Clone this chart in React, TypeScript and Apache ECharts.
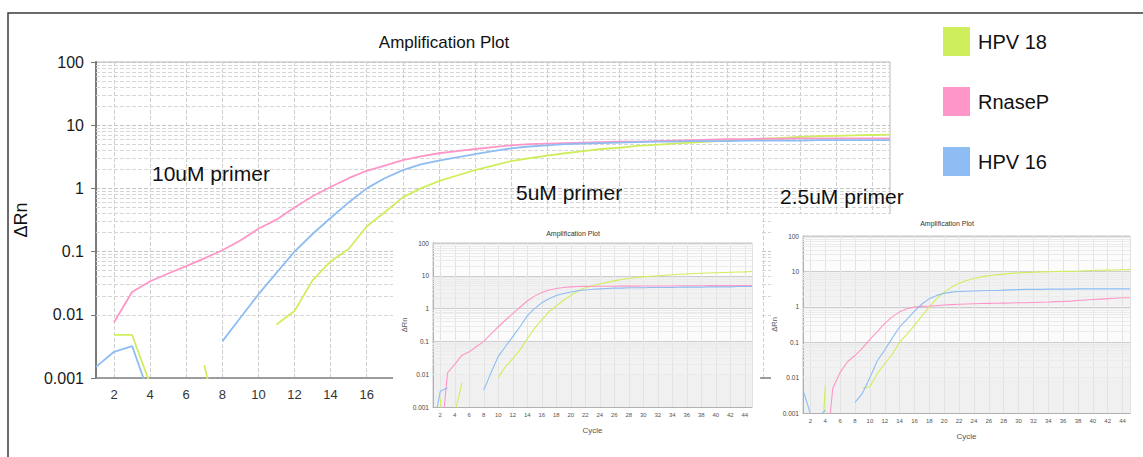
import React, { useEffect, useRef } from 'react';
import * as echarts from 'echarts';

const FONT = '"Liberation Sans", Arial, sans-serif';
const GREEN = '#cfee5c';
const PINK = '#ff96c8';
const BLUE = '#8dbdf3';

// Cycle categories (x axis)
const CYCLES = ['1','2','3','4','5','6','7','8','9','10','11','12','13','14','15','16','17','18','19','20','21','22','23','24','25','26','27','28','29','30','31','32','33','34','35','36','37','38','39','40','41','42','43','44','45'];

// Minor log grid lines (2..9 of every decade)
const MINOR_Y = [0.002,0.003,0.004,0.005,0.006,0.007,0.008,0.009,0.02,0.03,0.04,0.05,0.06,0.07,0.08,0.09,0.2,0.3,0.4,0.5,0.6,0.7,0.8,0.9,2,3,4,5,6,7,8,9,20,30,40,50,60,70,80,90];

const SERIES_NAMES = ['HPV 18', 'RnaseP', 'HPV 16'];

// 10uM primer (main plot)
const MAIN_HPV18 = [null,0.0048,0.0048,0.0008,null,null,0.0016,0.0001,null,null,0.007,0.0115,0.035,0.07,0.11,0.25,0.42,0.72,1.0,1.3,1.6,1.95,2.3,2.7,3.0,3.3,3.6,3.9,4.2,4.4,4.7,4.9,5.1,5.3,5.5,5.7,5.9,6.1,6.3,6.5,6.7,6.8,6.9,7.0,7.1];
const MAIN_RNASEP = [null,0.0076,0.023,0.034,0.045,0.059,0.078,0.105,0.15,0.23,0.32,0.5,0.75,1.05,1.45,1.9,2.3,2.8,3.2,3.6,3.9,4.2,4.5,4.8,5.0,5.1,5.2,5.3,5.4,5.5,5.5,5.6,5.7,5.8,5.9,6.0,6.0,6.1,6.1,6.2,6.2,6.2,6.2,6.2,6.2];
const MAIN_HPV16 = [0.0015,0.0026,0.0032,0.0005,null,null,null,0.0038,0.009,0.021,0.046,0.1,0.19,0.34,0.6,1.0,1.45,1.95,2.4,2.75,3.1,3.5,3.9,4.3,4.6,4.8,5.0,5.1,5.2,5.3,5.4,5.5,5.5,5.6,5.6,5.6,5.7,5.7,5.7,5.7,5.8,5.8,5.8,5.8,5.8];

// 5uM primer (inset 1)
const I1_HPV18 = [null,0.0018,0.00001,0.00066,0.0054,null,null,null,null,0.008,0.017,0.03,0.055,0.12,0.25,0.45,0.8,1.2,1.8,2.5,3.5,4.3,5.0,5.6,6.3,7.0,7.7,8.3,8.9,9.3,9.7,10.0,10.4,10.8,11.1,11.4,11.7,12.0,12.2,12.4,12.6,12.8,13.0,13.2,13.5];
const I1_RNASEP = [null,0.00005,0.011,0.02,0.038,0.048,0.07,0.1,0.17,0.28,0.45,0.7,1.1,1.7,2.4,3.1,3.7,4.1,4.4,4.6,4.7,4.75,4.8,4.8,4.8,4.8,4.85,4.85,4.85,4.9,4.9,4.9,4.9,4.9,4.95,4.95,4.95,4.95,5.0,5.0,5.0,5.0,5.0,5.0,5.0];
const I1_HPV16 = [0.00019,0.003,0.0038,null,null,null,null,0.0033,0.011,0.035,0.07,0.14,0.28,0.6,1.0,1.5,2.0,2.5,2.9,3.2,3.5,3.7,3.9,4.0,4.1,4.2,4.2,4.3,4.3,4.3,4.4,4.4,4.4,4.4,4.5,4.5,4.5,4.5,4.6,4.6,4.6,4.6,4.7,4.7,4.7];

// 2.5uM primer (inset 2)
const I2_HPV18 = [null,null,0.0000008,0.006,null,null,null,null,0.005,0.0055,0.013,0.025,0.045,0.1,0.17,0.3,0.55,1.0,1.7,2.6,3.6,4.6,5.5,6.3,7.0,7.5,8.0,8.4,8.8,9.1,9.3,9.5,9.7,9.8,9.9,10.0,10.1,10.2,10.4,10.6,10.8,10.9,11.0,11.1,11.2];
const I2_RNASEP = [null,null,null,0.00003,0.005,0.014,0.028,0.042,0.068,0.12,0.2,0.34,0.52,0.72,0.88,0.98,1.03,1.05,1.08,1.12,1.15,1.18,1.2,1.22,1.24,1.25,1.26,1.27,1.28,1.3,1.3,1.32,1.34,1.36,1.4,1.42,1.45,1.5,1.55,1.6,1.65,1.7,1.75,1.8,1.8];
const I2_HPV16 = [0.0045,0.00095,0.0007,0.0012,null,null,null,0.002,0.0036,0.01,0.03,0.06,0.13,0.27,0.45,0.75,1.2,1.7,2.1,2.4,2.6,2.7,2.75,2.8,2.85,2.9,2.9,2.95,3.0,3.05,3.1,3.1,3.1,3.15,3.15,3.15,3.15,3.2,3.2,3.2,3.2,3.2,3.2,3.2,3.2];

const PANELS = [
  [MAIN_HPV18, MAIN_RNASEP, MAIN_HPV16],
  [I1_HPV18, I1_RNASEP, I1_HPV16],
  [I2_HPV18, I2_RNASEP, I2_HPV16],
];
const COLORS = [GREEN, PINK, BLUE];

const logFmt = (v: number) => (v >= 1 ? String(Math.round(v)) : String(parseFloat(v.toPrecision(1))));
const evenIdx = (i: number) => i % 2 === 1;

export default function App() {
  const ref = useRef<HTMLDivElement>(null);

  useEffect(() => {
    const chart = echarts.init(ref.current as HTMLDivElement, null, { renderer: 'svg' });

    const insetX = (grid: number) => ({
      type: 'category',
      gridIndex: grid,
      data: CYCLES,
      boundaryGap: false,
      z: 11,
      axisLine: { lineStyle: { color: '#b0b0b0' } },
      axisTick: { show: false },
      axisLabel: { interval: evenIdx, fontSize: 6, color: '#555', margin: 5, fontFamily: FONT },
      splitLine: { show: true, interval: evenIdx, lineStyle: { color: '#e3e3e3' } },
      name: 'Cycle',
      nameLocation: 'middle',
      nameGap: 19,
      nameTextStyle: { fontSize: 8, color: '#555', fontFamily: FONT },
    });
    const insetY = (grid: number) => ({
      type: 'log',
      logBase: 10,
      gridIndex: grid,
      min: 0.001,
      max: 100,
      z: 11,
      axisLine: { show: true, lineStyle: { color: '#b0b0b0' } },
      axisTick: { show: false },
      axisLabel: { fontSize: 6.5, color: '#444', margin: 4, formatter: logFmt, fontFamily: FONT },
      splitLine: { lineStyle: { color: '#cdcdcd' } },
      splitArea: { show: true, areaStyle: { color: ['#f0f0f0', '#f2f2f2', '#fbfbfb', '#f2f2f2', '#fcfcfc'] } },
      name: 'ΔRn',
      nameLocation: 'middle',
      nameRotate: 90,
      nameGap: 22,
      nameTextStyle: { fontSize: 7.5, color: '#555', fontFamily: FONT },
    });

    const series: any[] = [];
    PANELS.forEach((panel, g) => {
      panel.forEach((data, k) => {
        const s: any = {
          name: SERIES_NAMES[k],
          type: 'line',
          xAxisIndex: g,
          yAxisIndex: g,
          data,
          showSymbol: false,
          symbol: 'none',
          connectNulls: false,
          z: g === 0 ? 2 : 13,
          color: COLORS[k],
          itemStyle: { color: COLORS[k] },
          lineStyle: { color: COLORS[k], width: g === 0 ? 1.8 : 1.1 },
        };
        if (k === 0) {
          s.markLine = {
            silent: true,
            symbol: ['none', 'none'],
            label: { show: false },
            z: g === 0 ? 1 : 12,
            lineStyle: g === 0
              ? { color: '#d6d6d6', type: 'dashed', width: 1 }
              : { color: '#ebebeb', type: 'solid', width: 1 },
            emphasis: { disabled: true },
            data: MINOR_Y.map((v) => ({ yAxis: v })),
          };
        }
        series.push(s);
      });
    });

    const option: any = {
      animation: false,
      backgroundColor: '#ffffff',
      textStyle: { fontFamily: FONT },
      legend: {
        data: SERIES_NAMES,
        orient: 'vertical',
        left: 943,
        top: 27,
        padding: 0,
        itemWidth: 27,
        itemHeight: 29,
        itemGap: 31,
        icon: 'rect',
        selectedMode: false,
        textStyle: { fontSize: 20, color: '#111', fontFamily: FONT, padding: [0, 0, 0, 3] },
      },
      grid: [
        { left: 96, top: 62, width: 794, height: 316, show: true, borderColor: '#b8b8b8', borderWidth: 1, z: 0 },
        { left: 433, top: 243, width: 319, height: 164, show: true, borderColor: '#c4c4c4', backgroundColor: '#ffffff', z: 11 },
        { left: 803, top: 236, width: 327, height: 177, show: true, borderColor: '#c4c4c4', backgroundColor: '#ffffff', z: 11 },
      ],
      xAxis: [
        {
          type: 'category',
          gridIndex: 0,
          data: CYCLES,
          boundaryGap: false,
          axisLine: { lineStyle: { color: '#8a8a8a', width: 1.5 } },
          axisTick: { show: false },
          axisLabel: { interval: (i: number) => i % 2 === 1 && i < 16, fontSize: 13, color: '#333', margin: 10, fontFamily: FONT },
          splitLine: { show: true, interval: evenIdx, lineStyle: { color: '#cfcfcf', type: 'dashed' } },
        },
        insetX(1),
        insetX(2),
      ],
      yAxis: [
        {
          type: 'log',
          logBase: 10,
          gridIndex: 0,
          min: 0.001,
          max: 100,
          axisLine: { show: true, lineStyle: { color: '#7a7a7a', width: 2 } },
          axisTick: { show: true, length: 5, lineStyle: { color: '#7a7a7a' } },
          axisLabel: { fontSize: 16, color: '#1a1a1a', margin: 12, formatter: logFmt, fontFamily: FONT },
          splitLine: { lineStyle: { color: '#c4c4c4', type: 'dashed' } },
          name: 'ΔRn',
          nameLocation: 'middle',
          nameRotate: 90,
          nameGap: 66,
          nameTextStyle: { fontSize: 18, color: '#111', fontFamily: FONT },
        },
        insetY(1),
        insetY(2),
      ],
      graphic: [
        { type: 'rect', silent: true, z: 10, shape: { x: 393, y: 214, width: 367, height: 243 }, style: { fill: '#ffffff' } },
        { type: 'rect', silent: true, z: 10, shape: { x: 771, y: 214, width: 372, height: 243 }, style: { fill: '#ffffff' } },
        { type: 'rect', silent: true, z: 30, shape: { x: 8, y: 13, width: 1160, height: 470 }, style: { fill: 'none', stroke: '#3a3a3a', lineWidth: 1.5 } },
        { type: 'text', z: 20, x: 444, y: 42, style: { text: 'Amplification Plot', fill: '#111', fontSize: 17, fontFamily: FONT, align: 'center', verticalAlign: 'middle' } },
        { type: 'text', z: 20, x: 573, y: 233, style: { text: 'Amplification Plot', fill: '#333', fontSize: 7, fontFamily: FONT, align: 'center', verticalAlign: 'middle' } },
        { type: 'text', z: 20, x: 947, y: 223, style: { text: 'Amplification Plot', fill: '#333', fontSize: 7, fontFamily: FONT, align: 'center', verticalAlign: 'middle' } },
        { type: 'text', z: 20, x: 152, y: 173, style: { text: '10uM primer', fill: '#111', fontSize: 21, fontFamily: FONT, align: 'left', verticalAlign: 'middle' } },
        { type: 'text', z: 20, x: 516, y: 192, style: { text: '5uM primer', fill: '#111', fontSize: 21, fontFamily: FONT, align: 'left', verticalAlign: 'middle' } },
        { type: 'text', z: 20, x: 780, y: 196, style: { text: '2.5uM primer', fill: '#111', fontSize: 21, fontFamily: FONT, align: 'left', verticalAlign: 'middle' } },
      ],
      series,
    };

    chart.setOption(option);
    return () => chart.dispose();
  }, []);

  return (
    <div
      ref={ref}
      style={{ position: 'absolute', left: 0, top: 0, width: 1143, height: 457, background: '#fff' }}
    />
  );
}
